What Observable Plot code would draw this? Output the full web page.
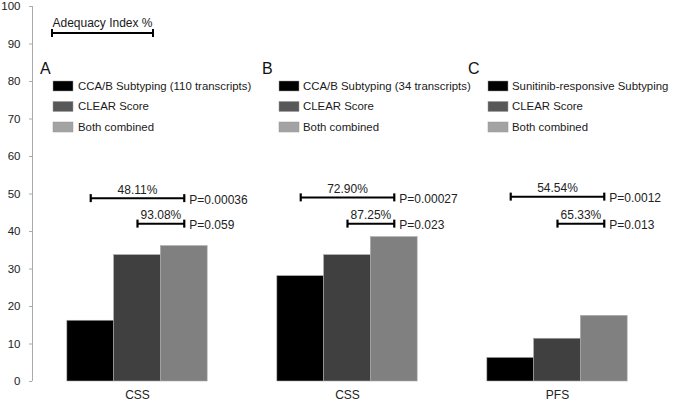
<!DOCTYPE html>
<html><head><meta charset="utf-8">
<script src="https://cdn.jsdelivr.net/npm/d3@7"></script>
<script src="https://cdn.jsdelivr.net/npm/@observablehq/plot@0.6"></script>
<style>
body{margin:0;background:#fff;}
#chart{width:675px;height:402px;overflow:hidden;}
svg{font-family:"Liberation Sans",Arial,sans-serif;}
</style></head><body><div id="chart"></div>
<script>
// ---- data ----
const panels = ["A", "B", "C"];
const outcomes = ["CSS", "CSS", "PFS"];
const seriesKeys = ["subtyping", "clear", "combined"];
const legendLabelsA = ["CCA/B Subtyping (110 transcripts)", "CLEAR Score", "Both combined"];
const legendLabelsB = ["CCA/B Subtyping (34 transcripts)", "CLEAR Score", "Both combined"];
const legendLabelsC = ["Sunitinib-responsive Subtyping", "CLEAR Score", "Both combined"];
const valuesA = [16.2, 33.7, 36.1];
const valuesB = [28.1, 33.7, 38.5];
const valuesC = [6.3, 11.4, 17.5];
const yTicks = [0, 10, 20, 30, 40, 50, 60, 70, 80, 90, 100];
const bracketPanel = ["A", "A", "B", "B", "C", "C"];
const bracketFrom = [0, 1, 0, 1, 0, 1];
const bracketTo = [2, 2, 2, 2, 2, 2];
const bracketLevel = [48.9, 42.1, 49.1, 42.1, 49.3, 42.1];
const bracketPct = ["48.11%", "93.08%", "72.90%", "87.25%", "54.54%", "65.33%"];
const bracketP = ["P=0.00036", "P=0.059", "P=0.00027", "P=0.023", "P=0.0012", "P=0.013"];
const keyLabel = "Adequacy Index %";

// ---- styles ----
const barColors = ["#000000", "#404040", "#808080"];
const swatchColors = ["#000000", "#585858", "#a3a3a3"];
const font = "'Liberation Sans', Arial, sans-serif";

// ---- tables ----
const panelValues = [valuesA, valuesB, valuesC];
const panelLegends = [legendLabelsA, legendLabelsB, legendLabelsC];
const bars = panels.flatMap((p, i) => panelValues[i].map((v, j) => ({panel: p, idx: j, series: seriesKeys[j], value: v})));
const brackets = bracketPanel.map((p, i) => ({
  panel: p, x1: bracketFrom[i] + 0.5, x2: bracketTo[i] + 0.5,
  y: bracketLevel[i], pct: bracketPct[i], p: bracketP[i]
}));
const caps = brackets.flatMap(b => [{panel: b.panel, x: b.x1, y: b.y}, {panel: b.panel, x: b.x2, y: b.y}]);
const panelRows = panels.map((p, i) => ({panel: p, outcome: outcomes[i]}));

const vbar = {draw(ctx, size) { const h = Math.sqrt(size / Math.PI); ctx.moveTo(0, -h); ctx.lineTo(0, h); }};
const xDomain = [-0.745, 3.745];

const plot = Plot.plot({
  width: 675, height: 402,
  marginLeft: 31, marginRight: 12, marginTop: 6, marginBottom: 21,
  style: {fontFamily: font, background: "#fff"},
  fx: {domain: panels, padding: 0, axis: null, label: null},
  x: {domain: xDomain, axis: null},
  y: {domain: [0, 100], label: null},
  color: {domain: seriesKeys, range: barColors},
  marks: [
    Plot.rectY(bars, {fx: "panel", x1: "idx", x2: d => d.idx + 1, y: "value", fill: "series", stroke: "#aaa", strokeWidth: 0.6}),
    Plot.ruleX(panelRows.slice(0, 1), {fx: "panel", x: xDomain[0], y1: 0, y2: 100, stroke: "#aaa", strokeWidth: 1}),
    Plot.axisY({ticks: yTicks, tickSize: 3, tickPadding: 9, fontSize: 11.5, stroke: "#aaa", fill: "#222", label: null}),
    Plot.link(brackets, {fx: "panel", x1: "x1", x2: "x2", y1: "y", y2: "y", stroke: "#000", strokeWidth: 2}),
    Plot.dot(caps, {fx: "panel", x: "x", y: "y", symbol: vbar, r: 4, fill: "none", stroke: "#000", strokeWidth: 2.2}),
    Plot.text(brackets, {fx: "panel", x: d => (d.x1 + d.x2) / 2, y: "y", text: "pct", dy: -8, fontSize: 12, fill: "#222"}),
    Plot.text(brackets, {fx: "panel", x: "x2", y: "y", text: "p", textAnchor: "start", dx: 5, dy: 2, fontSize: 12, fill: "#222"}),
    Plot.text(panelRows, {fx: "panel", x: 1.5, y: 0, text: "outcome", dy: 14, fontSize: 12, fill: "#222"})
  ]
});
document.getElementById("chart").appendChild(plot);

// ---- legends & key (layout overlay) ----
const svg = d3.select(plot);
const legendLayout = [
  {letterX: 40, swatchX: 53, labelX: 78},
  {letterX: 262, swatchX: 279, labelX: 303},
  {letterX: 468, swatchX: 488, labelX: 512}
];
const letterY = 68, rowY = [86, 106.5, 127];
panels.forEach((p, i) => {
  const L = legendLayout[i];
  const g = svg.append("g").attr("font-family", font).attr("text-anchor", "start");
  g.append("text").attr("x", L.letterX).attr("y", letterY).attr("dy", "0.36em")
    .attr("font-size", 16).attr("fill", "#111").text(p);
  panelLegends[i].forEach((lab, j) => {
    g.append("rect").attr("x", L.swatchX).attr("y", rowY[j] - 5).attr("width", 20).attr("height", 10)
      .attr("fill", swatchColors[j]).attr("stroke", "#999").attr("stroke-width", 0.5);
    g.append("text").attr("x", L.labelX).attr("y", rowY[j]).attr("dy", "0.35em")
      .attr("font-size", 11.4).attr("fill", "#1a1a1a").text(lab);
  });
});
const key = svg.append("g").attr("font-family", font);
key.append("text").attr("x", 102.5).attr("y", 23).attr("dy", "0.35em").attr("text-anchor", "middle")
  .attr("font-size", 12).attr("fill", "#1a1a1a").text(keyLabel);
key.append("path").attr("d", "M52,33H153M52,29V37M153,29V37").attr("stroke", "#000").attr("stroke-width", 2).attr("fill", "none");
</script></body></html>
